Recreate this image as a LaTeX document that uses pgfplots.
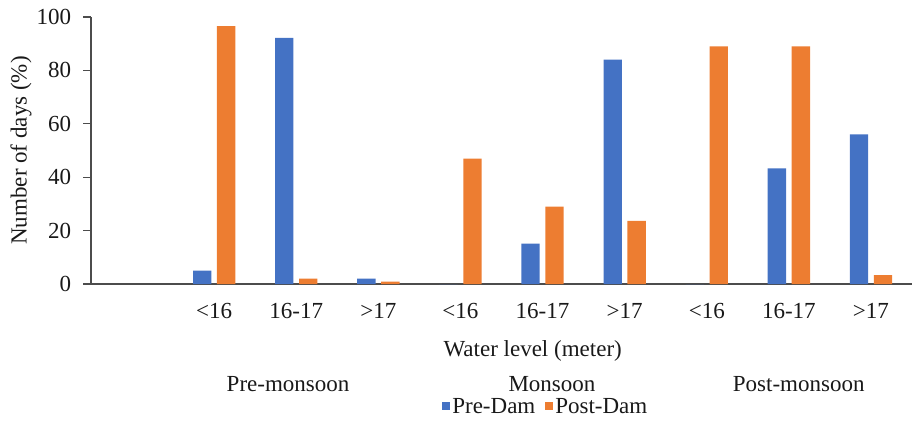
\documentclass[border=0pt]{standalone}
\usepackage{fontspec}
\setmainfont{Liberation Serif}
\usepackage{pgfplots}
\pgfplotsset{compat=1.18}
\definecolor{exblue}{HTML}{4472C4}
\definecolor{exorange}{HTML}{ED7D31}
\begin{document}
\fontsize{23bp}{27bp}\selectfont
\begin{tikzpicture}[x=1bp,y=1bp]
\useasboundingbox (0,0) rectangle (914,429);
\begin{axis}[
  at={(91bp,145bp)}, anchor=south west,
  scale only axis, width=821bp, height=267bp,
  xmin=-0.5, xmax=9.5, ymin=0, ymax=100,
  clip=false,
  axis x line*=bottom, axis y line*=left,
  axis line style={black!70, line width=1.4bp},
  ytick={0,20,40,60,80,100},
  xtick={1,2,3,4,5,6,7,8,9},
  xticklabels={<16,16-17,>17,<16,16-17,>17,<16,16-17,>17},
  tick align=outside, major tick length=8bp,
  ytick style={black!70, line width=1.4bp},
  xtick style={draw=none},
  /pgf/number format/assume math mode=true,
  tick label style={font=\fontsize{23bp}{27bp}\selectfont, text=black!90},
  yticklabel style={anchor=east, xshift=-4bp},
  xticklabel style={anchor=north, yshift=-3bp},
  ylabel={Number of days (\%)},
  ylabel style={at={(axis description cs:-0.0853,0.5)}, anchor=center, font=\fontsize{23bp}{27bp}\selectfont, text=black!90},
  xlabel={Water level (meter)},
  xlabel style={at={(axis description cs:0.538,-0.273)}, anchor=base, font=\fontsize{23bp}{27bp}\selectfont, text=black!90},
  legend columns=2,
  legend style={draw=none, fill=none, at={(axis description cs:0.554,-0.462)}, anchor=center,
    font=\fontsize{23bp}{27bp}\selectfont, text=black!90,
    /tikz/every even column/.append style={column sep=8bp},
    inner sep=0pt},
  legend image code/.code={\fill[#1] (0bp,-3bp) rectangle (8bp,5bp);},
]
\addplot[ybar, fill=exblue, draw=none, bar width=0.223, bar shift=-0.146]
  coordinates {(1,5.0) (2,92.2) (3,2.0) (4,0) (5,15.1) (6,84.0) (7,0) (8,43.3) (9,56.0)};
\addlegendentry{Pre-Dam}
\addplot[ybar, fill=exorange, draw=none, bar width=0.223, bar shift=0.146]
  coordinates {(1,96.6) (2,2.0) (3,0.9) (4,47.0) (5,29.0) (6,23.6) (7,89.0) (8,89.0) (9,3.3)};
\addlegendentry{Post-Dam}
\node[anchor=base, text=black!90] at (axis description cs:0.240,-0.403) {Pre-monsoon};
\node[anchor=base, text=black!90] at (axis description cs:0.5615,-0.403) {Monsoon};
\node[anchor=base, text=black!90] at (axis description cs:0.862,-0.403) {Post-monsoon};
\end{axis}
\end{tikzpicture}
\end{document}
